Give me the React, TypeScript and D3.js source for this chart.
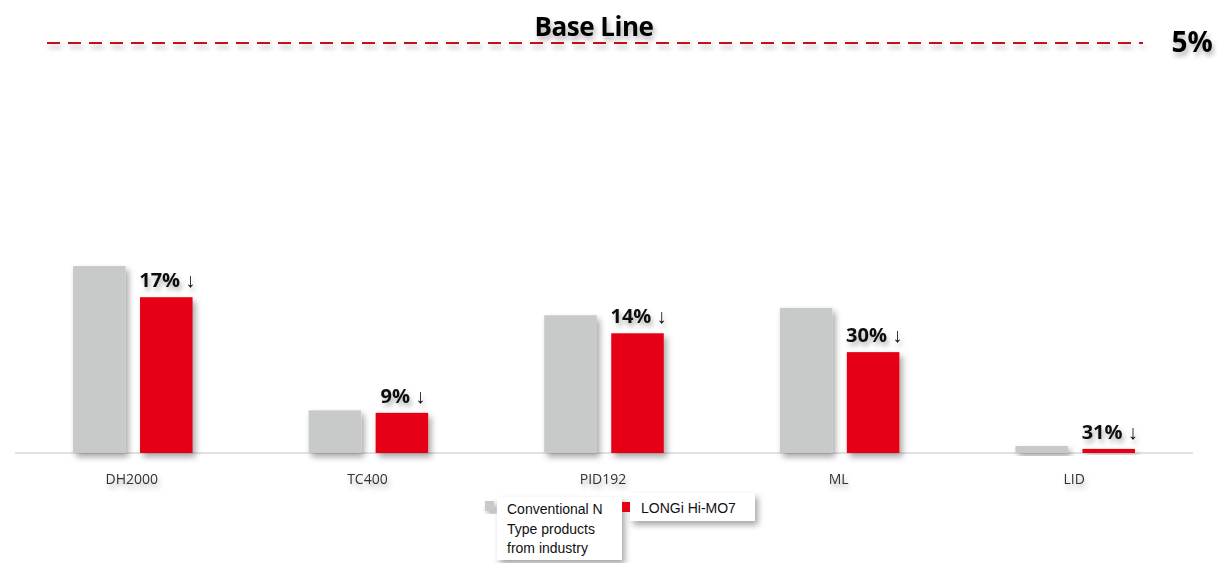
import React from 'react';
import * as d3 from 'd3';

const categories = ['DH2000', 'TC400', 'PID192', 'ML', 'LID'];
const conventional = [2.28, 0.52, 1.68, 1.77, 0.085];
const longi = [1.9, 0.49, 1.46, 1.23, 0.05];
const reductions = ['17%', '9%', '14%', '30%', '31%'];
const baseLineValue = 5;
const seriesNames = ['Conventional N Type products from industry', 'LONGi Hi-MO7'];

const W = 1217;
const H = 563;

function App() {
  const x = d3.scaleBand().domain(categories).range([15, 1193]);
  const inner = d3.scaleBand().domain(['conv', 'longi']).range([0, x.bandwidth()]).paddingInner(0.216).paddingOuter(0.866);
  const y = d3.scaleLinear().domain([0, baseLineValue]).range([453, 43]);

  const gray = '#c8c9c9';
  const red = '#e60012';

  return (
    <svg width={W} height={H} style={{ position: 'absolute', left: 0, top: 0, background: '#fff' }}>
      <defs>
        <filter id="sh" x="-30%" y="-30%" width="160%" height="160%">
          <feDropShadow dx="3" dy="4" stdDeviation="3" floodColor="#000" floodOpacity="0.35" />
        </filter>
        <filter id="tsh" x="-30%" y="-30%" width="160%" height="160%">
          <feDropShadow dx="2" dy="4" stdDeviation="2.5" floodColor="#000" floodOpacity="0.3" />
        </filter>
        <filter id="lsh" filterUnits="userSpaceOnUse" x="0" y="0" width={W} height="100">
          <feDropShadow dx="2" dy="4" stdDeviation="2.5" floodColor="#000" floodOpacity="0.3" />
        </filter>
      </defs>

      {/* base line */}
      <line x1={47} x2={1143} y1={y(baseLineValue)} y2={y(baseLineValue)}
        stroke="#c8101e" strokeWidth={2} strokeDasharray="13 8" filter="url(#lsh)" />
      <text x={594} y={36} textAnchor="middle" fontFamily="'Open Sans', sans-serif" fontWeight="bold"
        fontSize={26} fill="#000" filter="url(#tsh)" style={{ letterSpacing: '-0.5px' }}>Base Line</text>
      <text x={1192} y={52} textAnchor="middle" fontFamily="'Open Sans', sans-serif" fontWeight="bold"
        fontSize={28} fill="#000" filter="url(#tsh)">{baseLineValue}%</text>

      {/* axis line */}
      <line x1={15} x2={1193} y1={y(0)} y2={y(0)} stroke="#d9d9d9" strokeWidth={1.5} />

      {categories.map((c, i) => {
        const x0 = x(c)!;
        const xc = x0 + inner('conv')!;
        const xl = x0 + inner('longi')!;
        const bw = inner.bandwidth();
        return (
          <g key={c}>
            <rect x={xc} y={y(conventional[i])} width={bw} height={y(0) - y(conventional[i])} fill={gray} filter="url(#sh)" />
            <rect x={xl} y={y(longi[i])} width={bw} height={y(0) - y(longi[i])} fill={red} filter="url(#sh)" />
            <text x={xl + bw / 2 + 1} y={y(longi[i]) - 10} textAnchor="middle" fontFamily="'Open Sans', sans-serif"
              fontWeight="bold" fontSize={20} fill="#111" filter="url(#tsh)">{reductions[i]} ↓</text>
            <text x={x0 + x.bandwidth() / 2 - 1} y={484} textAnchor="middle" fontFamily="'Open Sans', sans-serif"
              fontSize={14} fill="#333" filter="url(#tsh)">{c}</text>
          </g>
        );
      })}

      {/* legend */}
      <g fontFamily="'Liberation Sans', Arial, sans-serif" fontSize={14} fill="#111">
        <rect x={497} y={497} width={125} height={63} fill="#fff" filter="url(#sh)" />
        <rect x={485} y={501} width={9} height={10} fill={gray} filter="url(#sh)" />
        <text x={507} y={514}>Conventional N</text>
        <text x={507} y={534}>Type products</text>
        <text x={507} y={553}>from industry</text>
        <rect x={630} y={493} width={125} height={28} fill="#fff" filter="url(#sh)" />
        <rect x={622} y={502} width={8} height={10} fill={red} />
        <text x={641} y={513}>{seriesNames[1]}</text>
      </g>
    </svg>
  );
}

export default App;
